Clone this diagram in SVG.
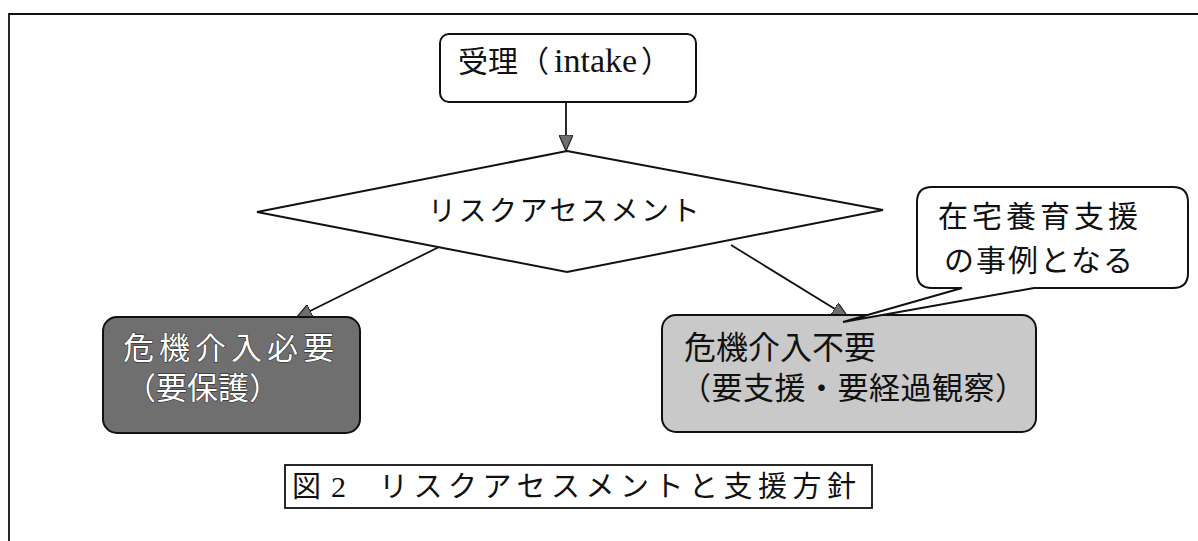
<svg xmlns="http://www.w3.org/2000/svg" width="1198" height="541" viewBox="0 0 1198 541">
  <defs>
    <style>
      .jp { font-family: "Liberation Serif", "Noto Sans CJK JP", serif; fill: #111; }
      .sans { font-family: "Noto Sans CJK JP", sans-serif; fill: #111; }
      .shape { stroke: #111; stroke-width: 2; }
      .conn { stroke: #111; stroke-width: 1.8; fill: none; }
      .wtxt { font-family: "Noto Sans CJK JP", sans-serif; fill: #fff; stroke: #222; stroke-width: 1; paint-order: stroke; }
    </style>
    <marker id="arr" viewBox="0 0 16 14" refX="16" refY="7" markerWidth="16" markerHeight="14" markerUnits="userSpaceOnUse" orient="auto">
      <path d="M0,0 L16,7 L0,14 Z" fill="#6e6e6e" stroke="#222" stroke-width="1.2"/>
    </marker>
  </defs>
  <rect width="1198" height="541" fill="#fff"/>
  <g id="frame">
    <path d="M9,541 L9,14 L1198,14" fill="none" stroke="#111" stroke-width="1.8"/>
  </g>
  <g id="connectors">
    <line class="conn" x1="566" y1="102" x2="566" y2="151" marker-end="url(#arr)"/>
    <line class="conn" x1="439" y1="247" x2="296" y2="318" marker-end="url(#arr)"/>
    <line class="conn" x1="731" y1="245" x2="848" y2="317" marker-end="url(#arr)"/>
  </g>
  <g id="intake">
    <rect class="shape" x="440" y="34" width="256" height="68" rx="9" fill="#fff"/>
    <text class="jp" y="72" font-size="30"><tspan x="458">受理</tspan><tspan x="519">（</tspan><tspan x="554" font-size="34">intake</tspan><tspan x="641">）</tspan></text>
  </g>
  <g id="risk">
    <polygon class="shape" points="567,151 883,210 567,272 257,212" fill="#fff"/>
    <text class="jp" x="428" y="221" font-size="28" letter-spacing="2.5">リスクアセスメント</text>
  </g>
  <g id="crisis-needed">
    <rect class="shape" x="103" y="317" width="257" height="116" rx="14" fill="#6f6f6f"/>
    <text class="wtxt" font-size="31"><tspan x="123" y="359" letter-spacing="5">危機介入必要</tspan><tspan x="125" y="399">（要保護）</tspan></text>
  </g>
  <g id="crisis-unneeded">
    <rect class="shape" x="662" y="315" width="374" height="117" rx="14" fill="#c9c9c9"/>
    <text class="sans" font-size="31"><tspan x="684" y="359" font-size="32">危機介入不要</tspan><tspan x="680" y="399" letter-spacing="0.5">（要支援・要経過観察）</tspan></text>
  </g>
  <g id="callout">
    <path class="shape" fill="#fff" d="M932,187 L1173,187 Q1188,187 1188,202 L1188,273 Q1188,288 1173,288 L1034,288 L843,322 L962,288 L932,288 Q917,288 917,273 L917,202 Q917,187 932,187 Z"/>
    <text class="jp" font-size="30"><tspan x="938" y="227" letter-spacing="4">在宅養育支援</tspan><tspan x="944" y="271" letter-spacing="2">の事例となる</tspan></text>
  </g>
  <g id="caption">
    <rect x="285" y="465" width="587" height="43" fill="#fff" stroke="#111" stroke-width="1.8"/>
    <text class="jp" x="292" y="497" font-size="29">図</text>
    <text class="jp" x="331" y="497" font-size="30">2</text>
    <text class="jp" x="379" y="497" font-size="29" textLength="477" lengthAdjust="spacing">リスクアセスメントと支援方針</text>
  </g>
</svg>
